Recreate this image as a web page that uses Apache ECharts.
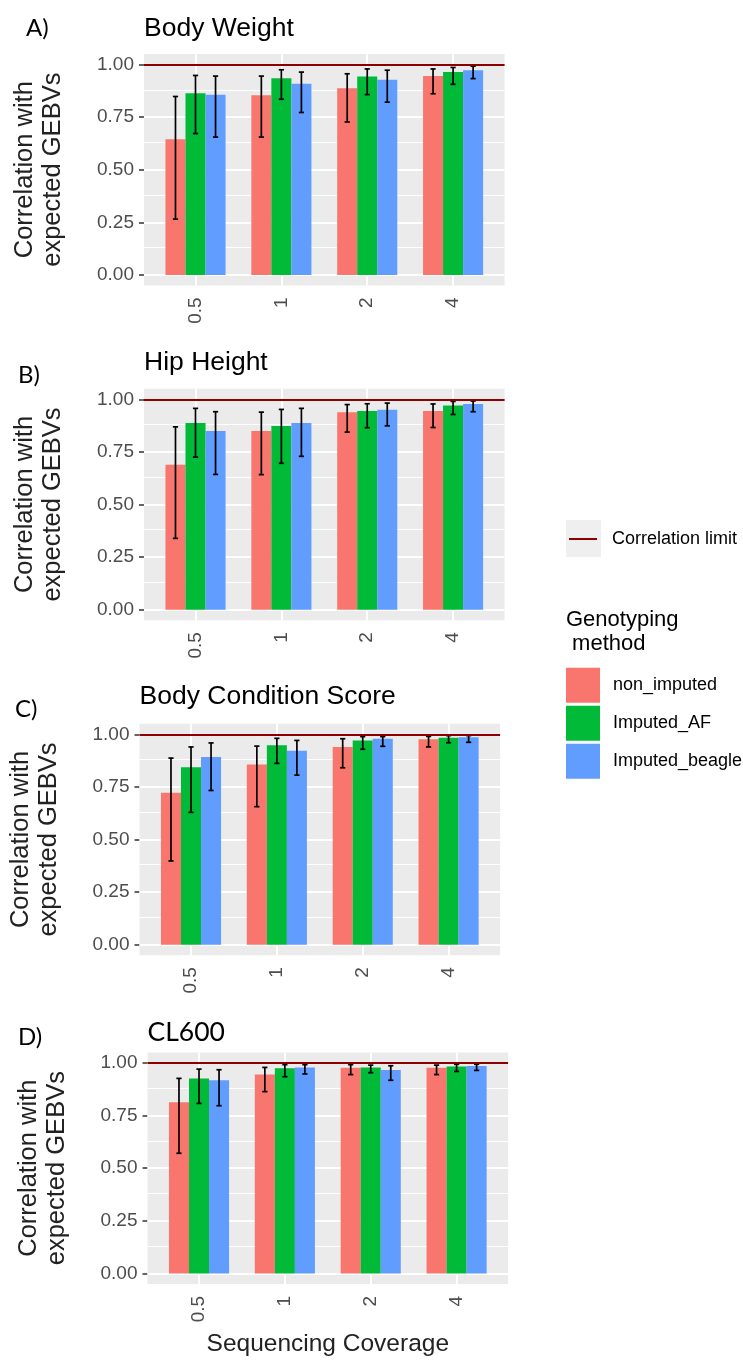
<!DOCTYPE html>
<html>
<head>
<meta charset="utf-8">
<script src="https://cdn.jsdelivr.net/npm/echarts@6/dist/echarts.min.js"></script>
<style>
html, body { margin: 0; padding: 0; background: #fff; }
#chart { width: 743px; height: 1363px; }
</style>
</head>
<body>
<div id="chart"></div>
<script>
// categories / legend
var coverage = ['0.5', '1', '2', '4'];
var methods = ['non_imputed', 'Imputed_AF', 'Imputed_beagle'];
var methodColors = ['#F8766D', '#00BA38', '#619CFF'];
var yTicks = [0, 0.25, 0.5, 0.75, 1];
var yMinor = [0.125, 0.375, 0.625, 0.875];
var corrLimit = 1;

// one row per method: non_imputed, Imputed_AF, Imputed_beagle
var bwMean = [[0.645, 0.854, 0.887, 0.945], [0.864, 0.935, 0.943, 0.964], [0.856, 0.908, 0.927, 0.973]];
var bwLow  = [[0.265, 0.655, 0.727, 0.861], [0.672, 0.835, 0.857, 0.906], [0.655, 0.772, 0.821, 0.933]];
var bwHigh = [[0.848, 0.945, 0.956, 0.979], [0.948, 0.975, 0.979, 0.986], [0.945, 0.964, 0.973, 0.992]];

var hhMean = [[0.689, 0.849, 0.938, 0.944], [0.887, 0.873, 0.944, 0.971], [0.849, 0.887, 0.951, 0.978]];
var hhLow  = [[0.339, 0.642, 0.844, 0.866], [0.725, 0.696, 0.865, 0.928], [0.643, 0.729, 0.874, 0.941]];
var hhHigh = [[0.869, 0.939, 0.975, 0.978], [0.957, 0.952, 0.979, 0.990], [0.941, 0.957, 0.982, 0.992]];

var bcsMean = [[0.722, 0.856, 0.940, 0.976], [0.843, 0.948, 0.971, 0.984], [0.892, 0.922, 0.979, 0.986]];
var bcsLow  = [[0.398, 0.656, 0.841, 0.940], [0.629, 0.862, 0.929, 0.960], [0.733, 0.806, 0.943, 0.962]];
var bcsHigh = [[0.887, 0.944, 0.979, 0.990], [0.940, 0.981, 0.989, 0.994], [0.959, 0.971, 0.989, 0.994]];

var clMean = [[0.813, 0.946, 0.978, 0.978], [0.926, 0.975, 0.979, 0.983], [0.918, 0.979, 0.967, 0.986]];
var clLow  = [[0.571, 0.864, 0.945, 0.945], [0.808, 0.935, 0.954, 0.960], [0.797, 0.948, 0.918, 0.965]];
var clHigh = [[0.927, 0.979, 0.992, 0.990], [0.971, 0.992, 0.990, 0.994], [0.968, 0.992, 0.987, 0.994]];

// panel layout (grey plot area in px)
var panels = [
  { letter: 'A)', title: 'Body Weight', mean: bwMean, low: bwLow, high: bwHigh,
    left: 144, top: 54, titleTop: 15, letterLeft: 26, letterTop: 16 },
  { letter: 'B)', title: 'Hip Height', mean: hhMean, low: hhLow, high: hhHigh,
    left: 144, top: 388.8, titleTop: 349, letterLeft: 18, letterTop: 363 },
  { letter: 'C)', title: 'Body Condition Score', mean: bcsMean, low: bcsLow, high: bcsHigh,
    left: 139.5, top: 723.8, titleTop: 683.5, letterLeft: 15, letterTop: 697 },
  { letter: 'D)', title: 'CL600', mean: clMean, low: clLow, high: clHigh,
    left: 147.5, top: 1052.5, titleTop: 1019, letterLeft: 18, letterTop: 1025, titleFont: 'Lato' }
];

var PW = 360.6, PH = 231.4;
var band = PW / 4.2;
var FONT = '"Liberation Sans", Arial, sans-serif';

var grids = [], xAxes = [], yAxes = [], series = [], titles = [];

function errorBarItem(params, api) {
  var cat = api.value(0), m = api.value(3);
  var lo = api.coord([cat, api.value(1)]);
  var hi = api.coord([cat, api.value(2)]);
  var bw = api.size([1, 0])[0] * 0.7 / 3;
  var x = lo[0] + (m - 1) * bw;
  var cap = 2.6;
  var st = { stroke: '#000', lineWidth: 1.7 };
  return {
    type: 'group',
    children: [
      { type: 'line', shape: { x1: x, y1: lo[1], x2: x, y2: hi[1] }, style: st },
      { type: 'line', shape: { x1: x - cap, y1: lo[1], x2: x + cap, y2: lo[1] }, style: st },
      { type: 'line', shape: { x1: x - cap, y1: hi[1], x2: x + cap, y2: hi[1] }, style: st }
    ]
  };
}

panels.forEach(function (p, k) {
  var bg = 2 * k, dg = 2 * k + 1;
  var isLast = k === panels.length - 1;

  // background grid (full grey panel)
  grids.push({ left: p.left, top: p.top, width: PW, height: PH, show: true,
    backgroundColor: '#EBEBEB', borderWidth: 0, outerBoundsMode: 'none' });
  // data grid (category bands)
  grids.push({ left: p.left + 0.1 * band, top: p.top, width: 4 * band, height: PH,
    show: false, outerBoundsMode: 'none' });

  xAxes.push({ gridIndex: bg, type: 'value', min: 0, max: 1, show: false });
  xAxes.push({
    gridIndex: dg, type: 'category', data: coverage,
    axisLine: { show: false },
    axisTick: { show: true, alignWithLabel: true, length: 5, lineStyle: { color: '#333', width: 1.5 } },
    axisLabel: { rotate: 90, fontSize: 19, color: '#4D4D4D', margin: 12, fontFamily: FONT },
    splitLine: { show: false },
    name: isLast ? 'Sequencing Coverage' : '',
    nameLocation: 'middle', nameGap: 48,
    nameTextStyle: { fontSize: 24.5, color: '#222', fontFamily: FONT }
  });

  yAxes.push({
    gridIndex: bg, type: 'value', min: -0.05, max: 1.05,
    axisLine: { show: false },
    axisTick: { show: true, length: 5, customValues: yTicks, lineStyle: { color: '#333', width: 1.5 } },
    axisLabel: { show: true, customValues: yTicks, fontSize: 19, color: '#4D4D4D', margin: 10,
      fontFamily: FONT, formatter: function (v) { return v.toFixed(2); } },
    splitLine: { show: false },
    name: 'Correlation with\nexpected GEBVs', nameLocation: 'middle', nameRotate: 90, nameGap: 77,
    nameTextStyle: { fontSize: 25.5, lineHeight: 28, color: '#222', fontFamily: FONT }
  });
  yAxes.push({ gridIndex: dg, type: 'value', min: -0.05, max: 1.05, show: false, splitLine: { show: false } });

  // horizontal gridlines, full panel width
  series.push({
    type: 'line', xAxisIndex: bg, yAxisIndex: bg, data: [], z: 1, silent: true,
    markLine: {
      z: 1, silent: true, symbol: 'none', animation: false, label: { show: false },
      data: yTicks.map(function (v) { return { yAxis: v, lineStyle: { color: '#fff', width: 2, type: 'solid' } }; })
        .concat(yMinor.map(function (v) { return { yAxis: v, lineStyle: { color: '#fff', width: 1.1, type: 'solid' } }; }))
    }
  });
  // vertical gridlines at category centres
  series.push({
    type: 'line', xAxisIndex: dg, yAxisIndex: dg, data: [], z: 1, silent: true,
    markLine: {
      z: 1, silent: true, symbol: 'none', animation: false, label: { show: false },
      lineStyle: { color: '#fff', width: 2, type: 'solid' },
      data: coverage.map(function (c) { return { xAxis: c }; })
    }
  });

  methods.forEach(function (name, m) {
    series.push({
      name: name, type: 'bar', xAxisIndex: dg, yAxisIndex: dg,
      data: p.mean[m], barGap: '0%', barCategoryGap: '30%', z: 2,
      itemStyle: { color: methodColors[m] }, silent: true
    });
  });

  var errData = [];
  methods.forEach(function (name, m) {
    coverage.forEach(function (c, i) {
      errData.push([i, p.low[m][i], p.high[m][i], m]);
    });
  });
  series.push({
    type: 'custom', xAxisIndex: dg, yAxisIndex: dg, z: 3, silent: true,
    renderItem: errorBarItem, encode: { x: 0, y: [1, 2] }, data: errData
  });

  // correlation limit
  series.push({
    name: 'Correlation limit', type: 'line', xAxisIndex: bg, yAxisIndex: bg, data: [], z: 4,
    color: '#8B0000', lineStyle: { color: '#8B0000' }, silent: true,
    markLine: {
      z: 4, silent: true, symbol: 'none', animation: false, label: { show: false },
      lineStyle: { color: '#8B0000', width: 2.2, type: 'solid' },
      data: [{ yAxis: corrLimit }]
    }
  });

  titles.push({ text: p.title, left: p.left, top: p.titleTop, padding: 0,
    textStyle: { fontSize: 26.5, fontWeight: 'normal', color: '#000', fontFamily: p.titleFont || FONT } });
  titles.push({ text: p.letter, left: p.letterLeft, top: p.letterTop, padding: 0,
    textStyle: { fontSize: 24, fontWeight: 'normal', color: '#000', fontFamily: 'Lato' } });
});

titles.push({ text: 'Genotyping\n method', left: 566, top: 607.5, padding: 0,
  textStyle: { fontSize: 22, lineHeight: 24.5, fontWeight: 'normal', color: '#000', fontFamily: FONT } });

var option = {
  animation: false,
  textStyle: { fontFamily: FONT },
  title: titles,
  grid: grids,
  xAxis: xAxes,
  yAxis: yAxes,
  legend: [
    {
      left: 569, top: 530, selectedMode: false, padding: 0,
      itemWidth: 28, itemHeight: 2,
      data: [{ name: 'Correlation limit', icon: 'path://M0 0H28V2H0Z' }],
      textStyle: { fontSize: 18, color: '#000', fontFamily: FONT, padding: [0, 0, 0, 10] }
    },
    {
      left: 566, top: 667.7, orient: 'vertical', selectedMode: false, padding: 0,
      itemWidth: 34, itemHeight: 35, itemGap: 3, icon: 'rect',
      data: methods,
      textStyle: { fontSize: 18, color: '#000', fontFamily: FONT, padding: [0, 0, 0, 8] }
    }
  ],
  graphic: [
    { type: 'rect', left: 566, top: 520, z: 0, shape: { width: 35, height: 37 }, style: { fill: '#EFEFEF' } }
  ],
  series: series
};

var myChart = echarts.init(document.getElementById('chart'));
myChart.setOption(option);
</script>
</body>
</html>
